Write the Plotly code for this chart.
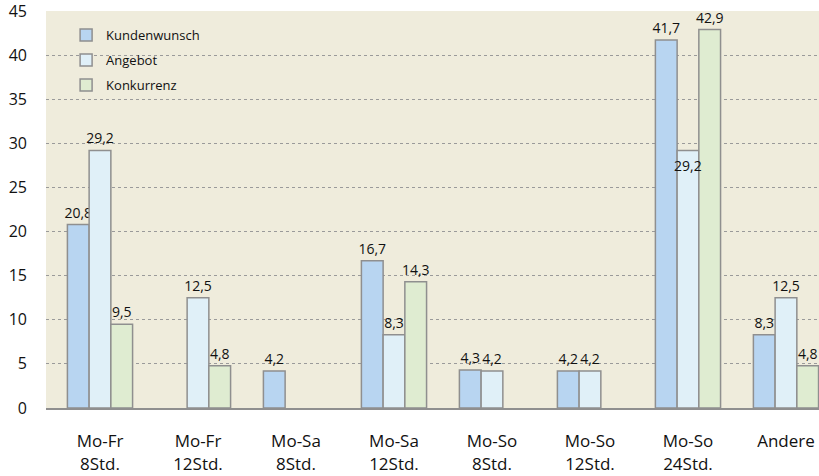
import plotly.graph_objects as go

categories = ["Mo-Fr<br>8Std.", "Mo-Fr<br>12Std.", "Mo-Sa<br>8Std.", "Mo-Sa<br>12Std.",
              "Mo-So<br>8Std.", "Mo-So<br>12Std.", "Mo-So<br>24Std.", "Andere"]
kundenwunsch = [20.8, None, 4.2, 16.7, 4.3, 4.2, 41.7, 8.3]
angebot = [29.2, 12.5, None, 8.3, 4.2, 4.2, 29.2, 12.5]
konkurrenz = [9.5, 4.8, None, 14.3, None, None, 42.9, 4.8]
y_ticks = [0, 5, 10, 15, 20, 25, 30, 35, 40, 45]

# labels that sit inside the bar top instead of above it
inside_idx = {"Angebot": [6]}

colors = {"Kundenwunsch": "#b8d5f1", "Angebot": "#e0f0f8", "Konkurrenz": "#dfecd1"}


def fmt(v):
    return "" if v is None else ("%.1f" % v).replace(".", ",")


fig = go.Figure()
for name, vals in [("Kundenwunsch", kundenwunsch), ("Angebot", angebot), ("Konkurrenz", konkurrenz)]:
    texts = [fmt(v) for v in vals]
    for i in inside_idx.get(name, []):
        texts[i] = ""
    fig.add_trace(go.Bar(
        name=name, x=categories, y=vals, text=texts,
        textposition="outside", cliponaxis=False, constraintext="none",
        textfont=dict(size=14, color="#111111"),
        marker=dict(color=colors[name], line=dict(color="#8f8f8f", width=1.5)),
        legendgroup=name,
    ))
    for i in inside_idx.get(name, []):
        fig.add_annotation(x=categories[i], y=vals[i], text=fmt(vals[i]), showarrow=False,
                           yanchor="top", yshift=-4, font=dict(size=14, color="#111111"))

fig.update_layout(
    width=819, height=476,
    margin=dict(l=46, r=0, t=11, b=68),
    paper_bgcolor="white", plot_bgcolor="#efecdc",
    font=dict(family="Open Sans, Lato, sans-serif", color="#111111"),
    barmode="group", bargap=0.335, bargroupgap=0,
    showlegend=True,
    legend=dict(x=0.026, y=0.977, xanchor="left", yanchor="top", bgcolor="rgba(0,0,0,0)",
                font=dict(size=13), tracegroupgap=5, traceorder="grouped"),
)
fig.update_xaxes(range=[-0.551, 7.337], showline=True, linecolor="#8f8f8f", linewidth=2,
                 ticks="", tickfont=dict(size=17), showgrid=False, ticklabelstandoff=17)
fig.update_yaxes(range=[0, 45], tickvals=y_ticks, showgrid=True, gridcolor="#9a9a9a",
                 griddash="3px,3px", gridwidth=1, zeroline=False, tickfont=dict(size=16),
                 ticklabelstandoff=18, ticklabeloverflow="allow")

fig.write_html("out.html", config={"displayModeBar": False},
               post_script="document.body.style.margin='0';document.body.style.overflow='hidden';")
